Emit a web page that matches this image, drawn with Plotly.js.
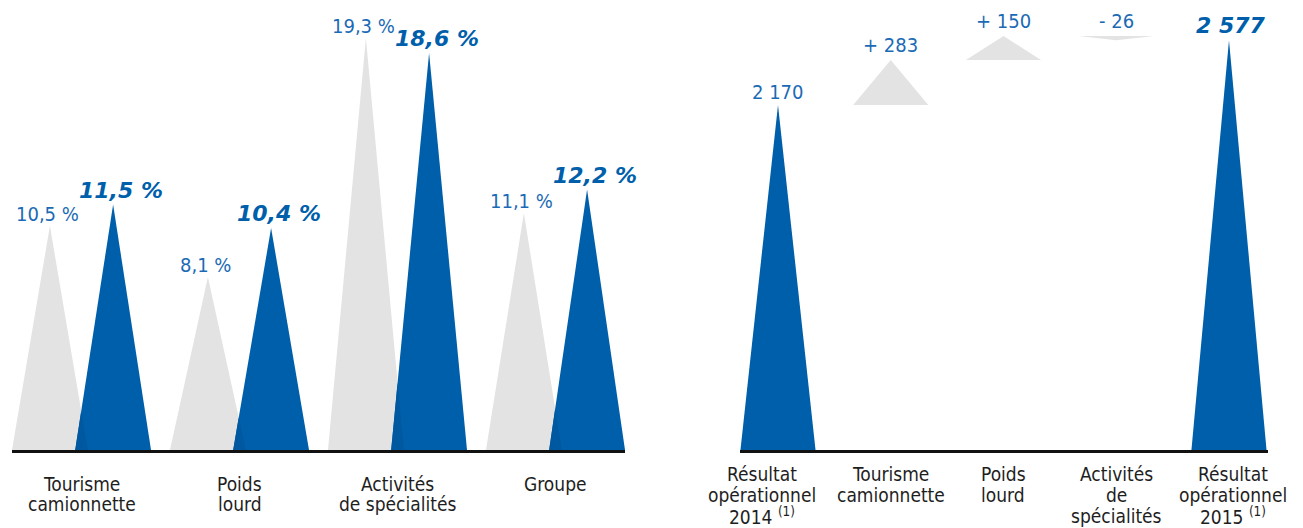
<!DOCTYPE html>
<html>
<head>
<meta charset="utf-8">
<script src="https://cdn.plot.ly/plotly-3.0.1.min.js"></script>
<style>html,body{margin:0;padding:0;background:#fff;}#chart{width:1303px;height:528px;}</style>
</head>
<body>
<div id="chart"></div>
<script>
// ---------- DATA ----------
const marginCategories = ["Tourisme<br>camionnette", "Poids<br>lourd", "Activités<br>de spécialités", "Groupe"];
const margin2014 = [10.5, 8.1, 19.3, 11.1];
const margin2015 = [11.5, 10.4, 18.6, 12.2];

const bridgeCategories = ["Résultat<br>opérationnel<br>2014 <sup>(1)</sup>", "Tourisme<br>camionnette", "Poids<br>lourd", "Activités<br>de<br>spécialités", "Résultat<br>opérationnel<br>2015 <sup>(1)</sup>"];
const bridgeStart = 2170;
const bridgeDeltas = [283, 150, -26];
const bridgeEnd = 2577;

// ---------- STYLE ----------
const BLUE = "#005fab";
const BLUE_DARK = "#0058a0";
const GRAY = "#e3e3e3";
const LABEL_BLUE = "#1b6ab5";
const TEXT = "#1e1e1e";
const NORMAL_FONT = {family: "DejaVu Sans Condensed, DejaVu Sans, sans-serif", size: 20, color: LABEL_BLUE};
const BOLD_FONT = {family: "DejaVu Sans, sans-serif", size: 22, color: BLUE, weight: 900, style: "italic"};
const CAT_FONT = {family: "DejaVu Sans Condensed, DejaVu Sans, sans-serif", size: 19, color: TEXT};

const fmtPct = v => v.toFixed(1).replace(".", ",") + " %";
const fmtNum = v => {
  const s = Math.abs(v).toString();
  return s.replace(/\B(?=(\d{3})+(?!\d))/g, " ");
};
const fmtDelta = v => (v >= 0 ? "+ " : "- ") + fmtNum(v);

const traces = [];
const annotations = [];

function poly(xs, ys, color, xa, ya) {
  traces.push({
    type: "scatter", mode: "lines", xaxis: xa, yaxis: ya,
    x: xs.concat([xs[0]]), y: ys.concat([ys[0]]),
    fill: "toself", fillcolor: color, line: {width: 0, color: color},
    hoverinfo: "skip", showlegend: false
  });
}
function tri(xc, half, yBase, yApex, color, xa, ya) {
  poly([xc - half, xc, xc + half], [yBase, yApex, yBase], color, xa, ya);
}

// ---------- LEFT CHART ----------
const OFF = 0.2, HALF_L = 0.24;
marginCategories.forEach((c, i) => {
  tri(i - OFF, HALF_L, 0, margin2014[i], GRAY, "x", "y");
});
marginCategories.forEach((c, i) => {
  tri(i + OFF, HALF_L, 0, margin2015[i], BLUE, "x", "y");
  // darker overlap between the grey and the blue triangle
  const g = i - OFF, b = i + OFF, v1 = margin2014[i], v2 = margin2015[i], h = HALF_L;
  const t = (g + 2 * h - b) / (h * (1 + v1 / v2));
  if (t > 0) {
    poly([b - h, g + h, g + h - t * h], [0, 0, t * v1], BLUE_DARK, "x", "y");
  }
});
const catAnn = (xa, x, line, j, spacing, start, xshift) => ({
  xref: xa, yref: "paper", x: x, y: 0, text: line, showarrow: false,
  yanchor: "middle", xanchor: "center", xshift: xshift, yshift: -(start + j * spacing),
  borderpad: 0, borderwidth: 0, font: CAT_FONT
});
marginCategories.forEach((c, i) => {
  annotations.push({xref: "x", yref: "y", x: i - OFF, y: margin2014[i], text: fmtPct(margin2014[i]),
    showarrow: false, yanchor: "bottom", xanchor: "center", yshift: -1, xshift: -2, borderpad: 0, font: NORMAL_FONT});
  annotations.push({xref: "x", yref: "y", x: i + OFF, y: margin2015[i], text: fmtPct(margin2015[i]),
    showarrow: false, yanchor: "bottom", xanchor: "center", yshift: 1, xshift: 8, borderpad: 0, font: BOLD_FONT});
  c.split("<br>").forEach((line, j) => annotations.push(catAnn("x", i, line, j, 20, 34, 0)));
});

// ---------- RIGHT CHART ----------
const HALF_R = 0.333;
tri(0, HALF_R, 0, bridgeStart, BLUE, "x2", "y2");
annotations.push({xref: "x2", yref: "y2", x: 0, y: bridgeStart, text: fmtNum(bridgeStart), showarrow: false,
  yanchor: "bottom", xanchor: "center", yshift: 0, borderpad: 0, font: NORMAL_FONT});
let level = bridgeStart;
bridgeDeltas.forEach((d, k) => {
  const next = level + d;
  tri(k + 1, HALF_R, level, next, GRAY, "x2", "y2");
  annotations.push({xref: "x2", yref: "y2", x: k + 1, y: Math.max(level, next), text: fmtDelta(d), showarrow: false,
    yanchor: "bottom", xanchor: "center", yshift: 2, borderpad: 0, font: NORMAL_FONT});
  level = next;
});
const lastIdx = bridgeCategories.length - 1;
tri(lastIdx, HALF_R, 0, bridgeEnd, BLUE, "x2", "y2");
annotations.push({xref: "x2", yref: "y2", x: lastIdx, y: bridgeEnd, text: fmtNum(bridgeEnd), showarrow: false,
  yanchor: "bottom", xanchor: "center", yshift: 1, xshift: 2, borderpad: 0, font: BOLD_FONT});

const labelShift = [-16, 0, 0, 0, 4];
bridgeCategories.forEach((c, i) => {
  c.split("<br>").forEach((line, j) => annotations.push(catAnn("x2", i, line, j, 21, 24, labelShift[i])));
});

const axisX = {showline: true, linecolor: "#111", linewidth: 3, showgrid: false, zeroline: false,
  showticklabels: false, ticks: "", fixedrange: true};
const axisY = {visible: false, showgrid: false, zeroline: false, fixedrange: true};

const layout = {
  width: 1303, height: 528,
  margin: {l: 0, r: 0, t: 0, b: 78, pad: 0},
  paper_bgcolor: "#fff", plot_bgcolor: "rgba(0,0,0,0)",
  showlegend: false,
  xaxis: Object.assign({}, axisX, {domain: [12 / 1303, 625 / 1303], range: [-0.44, 3.44]}),
  yaxis: Object.assign({}, axisY, {range: [0, 21.08]}),
  xaxis2: Object.assign({}, axisX, {domain: [740 / 1303, 1268 / 1303], range: [-0.337, 4.346], anchor: "y2"}),
  yaxis2: Object.assign({}, axisY, {range: [0, 2830], anchor: "x2"}),
  annotations: annotations
};

Plotly.newPlot("chart", traces, layout, {displayModeBar: false, staticPlot: true});
</script>
</body>
</html>
